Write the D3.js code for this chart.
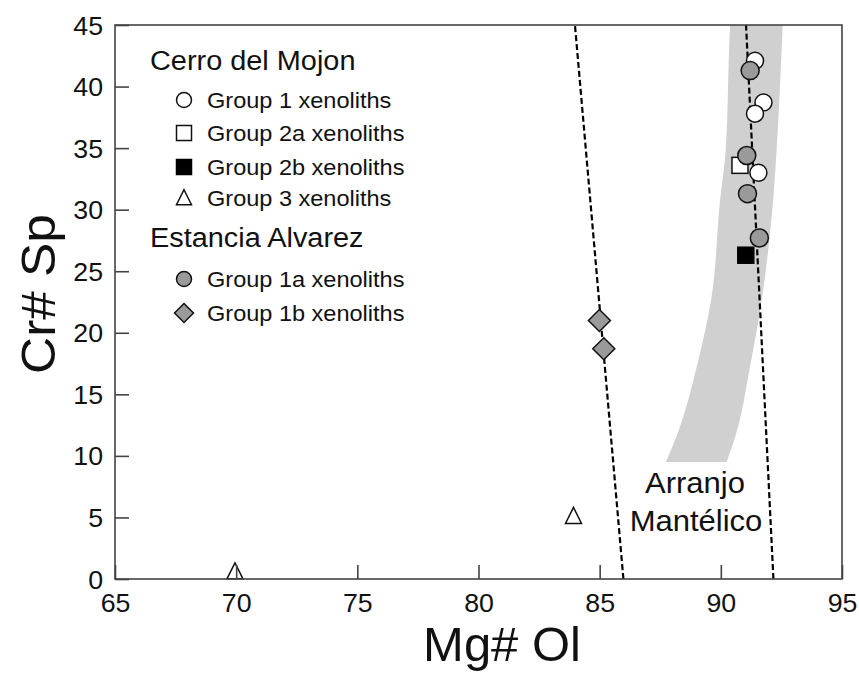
<!DOCTYPE html>
<html>
<head>
<meta charset="utf-8">
<script src="https://cdn.jsdelivr.net/npm/d3@7/dist/d3.min.js"></script>
<style>
  html, body { margin: 0; padding: 0; background: #fff; }
  svg { display: block; font-family: "Liberation Sans", Arial, Helvetica, sans-serif; }
</style>
</head>
<body>
<svg id="chart" width="859" height="675"></svg>
<script>
// Axis ticks
const xTicks = [65, 70, 75, 80, 85, 90, 95];
const yTicks = [0, 5, 10, 15, 20, 25, 30, 35, 40, 45];

// Cerro del Mojon samples: [Mg# Ol, Cr# Sp]
const group1 = [[91.41, 42.1], [91.76, 38.7], [91.41, 37.8], [91.55, 33.0]];
const group2a = [[90.79, 33.6]];
const group2b = [[91.03, 26.3]];
const group3 = [[69.95, 0.6], [83.92, 5.1]];

// Estancia Alvarez samples
const group1a = [[91.21, 41.3], [91.07, 34.4], [91.10, 31.3], [91.59, 27.7]];
const group1b = [[84.99, 21.0], [85.17, 18.7]];

// Mantle array band: Cr# levels with lower / upper Mg# edges
const bandCr = [9.5, 12, 17.2, 22.7, 30.8, 34.8, 43, 47];
const bandLo = [87.73, 88.25, 89.0, 89.6, 89.97, 90.2, 90.34, 90.42];
const bandHi = [90.24, 90.66, 91.2, 91.69, 92.16, 92.3, 92.51, 92.6];

// Dashed reference lines: [Mg#, Cr#] end points
const lineA = [[85.98, 0], [83.98, 45]];
const lineB = [[92.17, 0], [91.04, 45]];

const legendSites = ["Cerro del Mojon", "Estancia Alvarez"];
const legendItems = [
  { label: "Group 1 xenoliths", shape: "circle", fill: "#fff" },
  { label: "Group 2a xenoliths", shape: "square", fill: "#fff" },
  { label: "Group 2b xenoliths", shape: "square", fill: "#000" },
  { label: "Group 3 xenoliths", shape: "triangle", fill: "#fff" },
  { label: "Group 1a xenoliths", shape: "circle", fill: "#9a9a9a" },
  { label: "Group 1b xenoliths", shape: "diamond", fill: "#9a9a9a" }
];

const svg = d3.select("#chart");
const X0 = 115, X1 = 842, Y0 = 579, Y1 = 25;
const SX = 1.07; // horizontal stretch applied to text
const x = d3.scaleLinear().domain([65, 95]).range([X0, X1]);
const y = d3.scaleLinear().domain([0, 45]).range([Y0, Y1]);

svg.append("defs").append("clipPath").attr("id", "plotClip")
  .append("rect").attr("x", X0).attr("y", Y1).attr("width", X1 - X0).attr("height", Y0 - Y1);

const plot = svg.append("g").attr("clip-path", "url(#plotClip)");

// Mantle array band
const bandRows = bandCr.map((c, i) => ({ c, lo: bandLo[i], hi: bandHi[i] }));
plot.append("path")
  .datum(bandRows)
  .attr("fill", "#d0d0d0")
  .attr("d", d3.area()
    .y(d => y(d.c))
    .x0(d => x(d.lo))
    .x1(d => x(d.hi))
    .curve(d3.curveMonotoneY));

// Dashed lines
const line = d3.line().x(d => x(d[0])).y(d => y(d[1]));
[lineA, lineB].forEach(l => {
  plot.append("path").datum(l)
    .attr("d", line)
    .attr("fill", "none")
    .attr("stroke", "#000")
    .attr("stroke-width", 2.2)
    .attr("stroke-dasharray", "6,3");
});

// Symbol helpers
function drawShape(g, shape, cx, cy, size, fill) {
  const s = size;
  let el;
  if (shape === "circle") {
    el = g.append("circle").attr("cx", cx).attr("cy", cy).attr("r", s / 2);
  } else if (shape === "square") {
    el = g.append("rect").attr("x", cx - s / 2).attr("y", cy - s / 2).attr("width", s).attr("height", s);
  } else if (shape === "triangle") {
    const h = s;
    el = g.append("path").attr("d",
      `M${cx},${cy - h * 0.55} L${cx + s / 2},${cy + h * 0.45} L${cx - s / 2},${cy + h * 0.45} Z`);
  } else if (shape === "diamond") {
    el = g.append("path").attr("d",
      `M${cx},${cy - s / 2} L${cx + s / 2},${cy} L${cx},${cy + s / 2} L${cx - s / 2},${cy} Z`);
  }
  el.attr("fill", fill).attr("stroke", fill === "#000" ? "#000" : "#111").attr("stroke-width", 1.5);
  return el;
}

const pts = svg.append("g");
group2a.forEach(d => drawShape(pts, "square", x(d[0]), y(d[1]), 16, "#fff"));
group2b.forEach(d => drawShape(pts, "square", x(d[0]), y(d[1]), 16, "#000"));
group1.forEach(d => drawShape(pts, "circle", x(d[0]), y(d[1]), 17, "#fff"));
group1a.forEach(d => drawShape(pts, "circle", x(d[0]), y(d[1]), 18, "#9a9a9a"));
group1b.forEach(d => drawShape(pts, "diamond", x(d[0]), y(d[1]), 22, "#9a9a9a"));
group3.forEach(d => drawShape(pts, "triangle", x(d[0]), y(d[1]), 16, "#fff"));

// Frame
svg.append("rect")
  .attr("x", X0).attr("y", Y1).attr("width", X1 - X0).attr("height", Y0 - Y1)
  .attr("fill", "none").attr("stroke", "#444").attr("stroke-width", 1.6);

// Axes with inward ticks
const xAxis = svg.append("g").attr("transform", `translate(0,${Y0})`)
  .call(d3.axisBottom(x).tickValues(xTicks).tickSize(-14).tickFormat(d3.format("d")));
const yAxis = svg.append("g").attr("transform", `translate(${X0},0)`)
  .call(d3.axisLeft(y).tickValues(yTicks).tickSize(-14).tickFormat(d3.format("d")));
[xAxis, yAxis].forEach(a => {
  a.select(".domain").remove();
  a.selectAll(".tick line").attr("stroke", "#444").attr("stroke-width", 1.6);
  a.selectAll(".tick text").attr("fill", "#111").attr("font-size", 25)
    .attr("font-family", "Liberation Sans, Arial, sans-serif");
});
xAxis.selectAll(".tick text").attr("x", 0).attr("y", 0).attr("dy", 0)
  .attr("transform", `translate(0,33) scale(${SX},1)`);
yAxis.selectAll(".tick text").attr("x", 0).attr("y", 0).attr("dy", "0.36em")
  .attr("transform", `translate(-12,0) scale(${SX},1)`);

// Text helper with horizontal stretch
function label(txt, tx, ty, size, anchor, rot, sx) {
  return svg.append("text")
    .attr("transform", `translate(${tx},${ty})${rot ? ` rotate(${rot})` : ""} scale(${sx || SX},1)`)
    .attr("text-anchor", anchor || "start")
    .attr("font-size", size)
    .attr("fill", "#111")
    .text(txt);
}

// Axis titles
label("Mg# Ol", 502, 661, 48, "middle", 0, 1.02);
label("Cr# Sp", 55, 294, 48, "middle", -90);

// Band annotation
label("Arranjo", 695, 493, 29, "middle");
label("Mantélico", 696, 531, 29, "middle");

// Legend
label(legendSites[0], 150, 70, 27, "start");
label(legendSites[1], 150, 247, 27, "start");
const legSymX = 184, legTextX = 207;
const legY = [100, 133, 167, 198, 279, 313];
const legSize = { circle: 15, square: 15, triangle: 15, diamond: 19 };
const lg = svg.append("g");
legendItems.forEach((it, i) => {
  drawShape(lg, it.shape, legSymX, legY[i], legSize[it.shape], it.fill);
  label(it.label, legTextX, legY[i] + 8, 22, "start");
});
</script>
</body>
</html>
